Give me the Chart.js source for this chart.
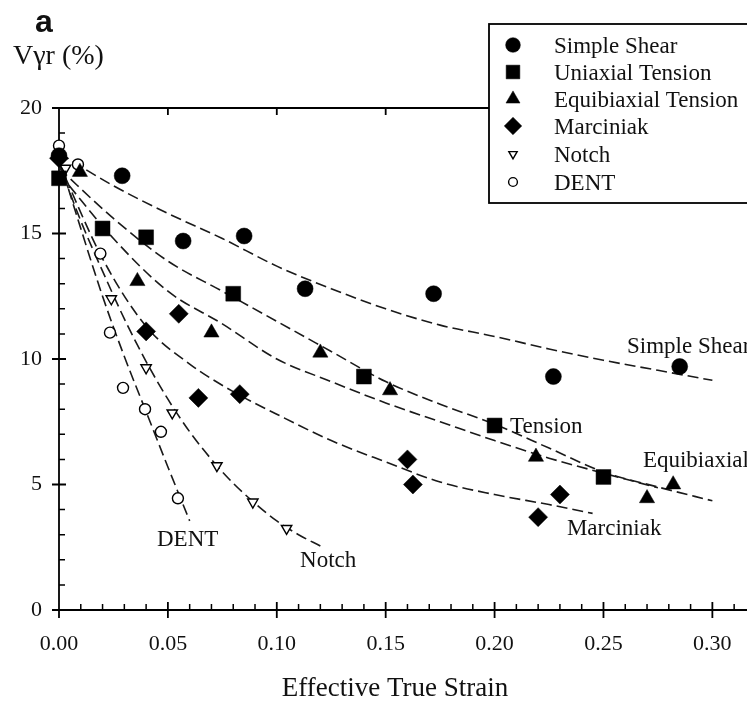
<!DOCTYPE html>
<html><head><meta charset="utf-8">
<script src="https://cdn.jsdelivr.net/npm/chart.js@4/dist/chart.umd.min.js"></script>
<style>html,body{margin:0;padding:0;background:#fff;overflow:hidden;}canvas{display:block;}</style>
</head><body>
<canvas id="c" width="747" height="702"></canvas>
<script>
// ---------- data ----------
const xTicks = [0, 0.05, 0.10, 0.15, 0.20, 0.25, 0.30];
const yTicks = [0, 5, 10, 15, 20];
const seriesNames = ['Simple Shear', 'Uniaxial Tension', 'Equibiaxial Tension', 'Marciniak', 'Notch', 'DENT'];

const shearX = [0, 0.029, 0.057, 0.085, 0.113, 0.172, 0.227, 0.285];
const shearY = [18.1, 17.3, 14.7, 14.9, 12.8, 12.6, 9.3, 9.7];
const uniX = [0, 0.020, 0.040, 0.080, 0.140, 0.200, 0.250];
const uniY = [17.2, 15.2, 14.85, 12.6, 9.3, 7.35, 5.3];
const equiX = [0.0096, 0.036, 0.070, 0.120, 0.152, 0.219, 0.270, 0.282];
const equiY = [17.45, 13.1, 11.05, 10.25, 8.75, 6.1, 4.45, 5.0];
const marcX = [0, 0.040, 0.055, 0.064, 0.083, 0.160, 0.1625, 0.220, 0.230];
const marcY = [18.0, 11.1, 11.8, 8.45, 8.6, 6.0, 5.0, 3.7, 4.6];
const notchX = [0.003, 0.024, 0.040, 0.052, 0.0725, 0.089, 0.1045];
const notchY = [17.6, 12.4, 9.65, 7.85, 5.75, 4.3, 3.25];
const dentX = [0, 0.0087, 0.019, 0.0234, 0.0294, 0.0395, 0.0468, 0.0546];
const dentY = [18.5, 17.75, 14.2, 11.05, 8.85, 8.0, 7.1, 4.45];

// dashed fit curves, read at several strains
const shearFitX = [0, 0.025, 0.05, 0.075, 0.1, 0.125, 0.15, 0.175, 0.2, 0.225, 0.25, 0.275, 0.3];
const shearFitY = [18.2, 16.9, 15.8, 14.8, 13.7, 12.8, 12.0, 11.35, 10.9, 10.4, 9.95, 9.55, 9.15];
const tensFitX = [0, 0.025, 0.05, 0.075, 0.1, 0.125, 0.15, 0.175, 0.2, 0.225, 0.25, 0.275, 0.3];
const tensFitY = [17.6, 15.6, 13.9, 12.7, 11.5, 10.3, 9.1, 8.2, 7.4, 6.45, 5.5, 4.9, 4.35];
const equiFitX = [0, 0.025, 0.05, 0.075, 0.1, 0.125, 0.15, 0.175, 0.2, 0.225, 0.25, 0.275];
const equiFitY = [17.4, 14.8, 12.7, 11.4, 10.0, 9.1, 8.25, 7.5, 6.75, 6.05, 5.45, 4.87];
const marcFitX = [0, 0.02, 0.04, 0.06, 0.08, 0.1, 0.125, 0.15, 0.175, 0.2, 0.225, 0.245];
const marcFitY = [17.8, 14.0, 11.3, 9.8, 8.7, 7.8, 6.75, 5.9, 5.1, 4.6, 4.2, 3.85];
const notchFitX = [0, 0.01, 0.02, 0.03, 0.04, 0.05, 0.06, 0.07, 0.08, 0.09, 0.1, 0.11, 0.12];
const notchFitY = [17.8, 15.5, 13.5, 11.6, 9.9, 8.4, 7.1, 6.0, 5.05, 4.25, 3.55, 3.0, 2.55];
const dentFitX = [0, 0.01, 0.02, 0.03, 0.04, 0.05, 0.06];
const dentFitY = [18.0, 15.2, 12.5, 10.1, 7.9, 5.7, 3.55];

// curve labels [text, strain, value] (left/baseline anchor)
const curveLabels = [
  ['Simple Shear', 0.2608, 10.23],
  ['Tension', 0.2071, 7.04],
  ['Equibiaxial', 0.2681, 5.68],
  ['Marciniak', 0.2332, 2.97],
  ['DENT', 0.045, 2.53],
  ['Notch', 0.1107, 1.70]
];

// ---------- build ----------
const pts = (xs, ys) => xs.map((v, i) => ({x: v, y: ys[i]}));
const SERIF = "'Liberation Serif','Times New Roman',serif";
const INK = '#111';

const markerStyles = [
  {pointStyle: 'circle', radius: 8, fill: '#000', rot: 0},
  {pointStyle: 'rect', radius: 10.5, fill: '#000', rot: 0},
  {pointStyle: 'triangle', radius: 8.8, fill: '#000', rot: 0},
  {pointStyle: 'rectRot', radius: 9.5, fill: '#000', rot: 0},
  {pointStyle: 'triangle', radius: 6, fill: '#fff', rot: 180},
  {pointStyle: 'circle', radius: 5.5, fill: '#fff', rot: 0}
];
const markerData = [pts(shearX, shearY), pts(uniX, uniY), pts(equiX, equiY), pts(marcX, marcY), pts(notchX, notchY), pts(dentX, dentY)];

const datasets = markerData.map((d, i) => ({
  label: seriesNames[i],
  data: d,
  showLine: false,
  pointStyle: markerStyles[i].pointStyle,
  pointRadius: markerStyles[i].radius,
  pointRotation: markerStyles[i].rot,
  pointBackgroundColor: markerStyles[i].fill,
  pointBorderColor: '#000',
  pointBorderWidth: markerStyles[i].fill === '#fff' ? 1.4 : 0.5,
  pointHoverRadius: markerStyles[i].radius,
  clip: false
}));

const fits = [pts(shearFitX, shearFitY), pts(tensFitX, tensFitY), pts(equiFitX, equiFitY), pts(marcFitX, marcFitY), pts(notchFitX, notchFitY), pts(dentFitX, dentFitY)];
fits.forEach((d, i) => datasets.push({
  label: 'fit' + i,
  data: d,
  showLine: true,
  borderColor: '#1a1a1a',
  borderWidth: 1.6,
  borderDash: [11, 5],
  pointRadius: 0,
  pointHoverRadius: 0,
  cubicInterpolationMode: 'monotone',
  fill: false,
  clip: false
}));

const framePlugin = {
  id: 'frame',
  beforeDatasetsDraw(chart) {
    const {ctx, chartArea: a, scales: {x, y}} = chart;
    ctx.save();
    ctx.strokeStyle = '#000';
    ctx.lineWidth = 1.8;
    ctx.beginPath();
    ctx.moveTo(a.left - 7, a.top); ctx.lineTo(a.right, a.top);
    ctx.moveTo(a.left - 7, a.bottom); ctx.lineTo(a.right, a.bottom);
    ctx.moveTo(a.left, a.top); ctx.lineTo(a.left, a.bottom + 8);
    xTicks.forEach(v => {
      const px = x.getPixelForValue(v);
      ctx.moveTo(px, a.bottom - 8); ctx.lineTo(px, a.bottom + 8);
      ctx.moveTo(px, a.top); ctx.lineTo(px, a.top + 7);
    });
    yTicks.forEach(v => {
      const py = y.getPixelForValue(v);
      ctx.moveTo(a.left - 7, py); ctx.lineTo(a.left + 7, py);
    });
    ctx.stroke();
    ctx.lineWidth = 1.5;
    ctx.beginPath();
    for (let i = 1; i * 0.01 <= x.max; i++) {
      if (i % 5 === 0) continue;
      const px = x.getPixelForValue(i * 0.01);
      ctx.moveTo(px, a.bottom); ctx.lineTo(px, a.bottom - 6);
    }
    for (let j = 1; j < 20; j++) {
      if (j % 5 === 0) continue;
      const py = y.getPixelForValue(j);
      ctx.moveTo(a.left, py); ctx.lineTo(a.left + 6, py);
    }
    ctx.stroke();
    ctx.restore();
  },
  afterDraw(chart) {
    const {ctx, scales: {x, y}} = chart;
    ctx.save();
    ctx.fillStyle = INK;
    ctx.textBaseline = 'alphabetic';
    ctx.textAlign = 'left';
    ctx.font = "bold 32px 'Liberation Sans', Arial, sans-serif";
    ctx.fillText('a', 35, 32);
    ctx.font = '28px ' + SERIF;
    ctx.fillText('V\u03B3r (%)', 13, 64);
    ctx.font = '27px ' + SERIF;
    ctx.textAlign = 'center';
    ctx.fillText('Effective True Strain', 395, 696);
    ctx.textAlign = 'left';
    ctx.font = '23px ' + SERIF;
    curveLabels.forEach(([t, vx, vy]) => {
      ctx.fillText(t, x.getPixelForValue(vx), y.getPixelForValue(vy));
    });
    ctx.fillStyle = '#fff';
    ctx.fillRect(489, 24, 280, 179);
    ctx.strokeStyle = '#000';
    ctx.lineWidth = 1.8;
    ctx.strokeRect(489, 24, 280, 179);
    const rows = [45, 72, 99, 126, 154, 182];
    seriesNames.forEach((name, i) => {
      const m = markerStyles[i];
      ctx.fillStyle = m.fill;
      ctx.strokeStyle = '#000';
      ctx.lineWidth = m.fill === '#fff' ? 1.4 : 0.5;
      const r = m.fill === '#fff' ? m.radius * 0.8 : m.radius * 0.92;
      Chart.helpers.drawPoint(ctx, {pointStyle: m.pointStyle, radius: r, rotation: m.rot, borderWidth: ctx.lineWidth}, 513, rows[i]);
      ctx.fillStyle = INK;
      ctx.font = '23px ' + SERIF;
      ctx.fillText(name, 554, rows[i] + 8);
    });
    ctx.restore();
  }
};

new Chart(document.getElementById('c'), {
  type: 'scatter',
  data: {datasets},
  options: {
    responsive: false,
    animation: false,
    devicePixelRatio: 1,
    layout: {autoPadding: false, padding: {top: 108, right: 0, left: 0, bottom: 0}},
    plugins: {legend: {display: false}, tooltip: {enabled: false}},
    scales: {
      x: {
        type: 'linear', min: 0, max: 0.3159,
        grid: {display: false, drawTicks: false},
        border: {display: false},
        afterBuildTicks: s => { s.ticks = xTicks.map(v => ({value: v})); },
        afterFit: s => { s.height = 92; s.paddingLeft = 0; s.paddingRight = 0; },
        ticks: {autoSkip: false, maxRotation: 0, padding: 21, color: INK,
          font: {family: SERIF, size: 22},
          callback: v => Number(v).toFixed(2)}
      },
      y: {
        type: 'linear', min: 0, max: 20,
        grid: {display: false, drawTicks: false},
        border: {display: false},
        afterBuildTicks: s => { s.ticks = yTicks.map(v => ({value: v})); },
        afterFit: s => { s.width = 59; s.paddingTop = 0; s.paddingBottom = 0; },
        ticks: {padding: 17, color: INK, font: {family: SERIF, size: 22},
          callback: v => String(v)}
      }
    }
  },
  plugins: [framePlugin]
});
</script>
</body></html>
